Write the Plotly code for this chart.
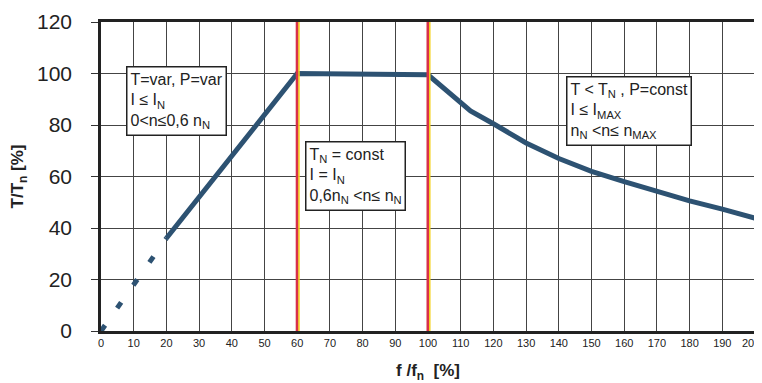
import plotly.graph_objects as go

# Data
dash_x = [0, 20]
dash_y = [0, 36]
curve_x = [20, 30, 40, 50, 60, 100, 110, 113, 120, 130, 140, 150, 160, 170, 180, 190, 200]
curve_y = [36, 52, 68, 84, 100, 99.5, 89, 85.5, 80.5, 73, 67, 62, 58, 54, 50.5, 47.3, 43.8]
boundaries = [60, 100]
x_ticks = list(range(0, 201, 10))
x_tick_labels = [str(v) for v in x_ticks]
y_ticks = list(range(0, 121, 20))

box_texts = [
    "T=var, P=var<br>I ≤ I<sub>N</sub><br>0&lt;n≤0,6 n<sub>N</sub>",
    "T<sub>N</sub> = const<br>I = I<sub>N</sub><br>0,6n<sub>N</sub> &lt;n≤ n<sub>N</sub>",
    "T &lt; T<sub>N</sub> , P=const<br>I ≤ I<sub>MAX</sub><br>n<sub>N</sub> &lt;n≤ n<sub>MAX</sub>",
]
box_x = [7.6, 62.5, 142.3]
box_y = [103.0, 73.6, 99.2]

LINE_COLOR = "#2d5272"

fig = go.Figure()
fig.add_trace(go.Scatter(x=dash_x, y=dash_y, mode="lines",
                         line=dict(color=LINE_COLOR, width=5, dash="7px,21px"),
                         hoverinfo="skip", showlegend=False))
fig.add_trace(go.Scatter(x=curve_x, y=curve_y, mode="lines",
                         line=dict(color=LINE_COLOR, width=5),
                         hoverinfo="skip", showlegend=False))

for b in boundaries:
    fig.add_shape(type="line", x0=b, x1=b, y0=0, y1=1, xref="x", yref="paper",
                  line=dict(color="#d8304a", width=3), layer="above")
    fig.add_shape(type="line", x0=b + 0.55, x1=b + 0.55, y0=0, y1=1, xref="x", yref="paper",
                  line=dict(color="#f5d21c", width=1.5), layer="above")

for t, bx, by in zip(box_texts, box_x, box_y):
    fig.add_annotation(x=bx, y=by, xref="x", yref="y", text=t, showarrow=False,
                       xanchor="left", yanchor="top", align="left",
                       bgcolor="white", bordercolor="#222", borderwidth=1.5, borderpad=3,
                       font=dict(family="Liberation Sans, Arial", size=16, color="#222"))

# the last x tick label sits at the page edge: draw it right-anchored so it stays visible
edge_label = x_tick_labels[-1]
x_tick_labels_axis = x_tick_labels[:-1] + [""]
fig.add_annotation(x=x_ticks[-1], y=0, xref="x", yref="paper", text=edge_label,
                   showarrow=False, xanchor="right", yanchor="middle",
                   xshift=6, yshift=-12, borderpad=0,
                   font=dict(family="Liberation Sans, Arial", size=11, color="#222"))

# page body has an 8px margin, so the figure is sized/offset to compensate
fig.update_layout(
    width=754, height=375,
    margin=dict(l=93, r=7, t=14, b=52, autoexpand=False),
    paper_bgcolor="white", plot_bgcolor="white",
    font=dict(family="Liberation Sans, Arial", color="#222"),
    xaxis=dict(range=[0, 200], tickvals=x_ticks, ticktext=x_tick_labels_axis,
               showgrid=True, gridcolor="#444", gridwidth=1, automargin=False,
               showline=True, linecolor="#222", linewidth=2.5, mirror=True,
               ticks="", tickfont=dict(size=11), zeroline=False,
               ticklabeloverflow="allow",
               title=dict(text="<b>f /f<sub>n</sub>  [%]</b>", font=dict(size=17), standoff=23)),
    yaxis=dict(range=[0, 120], tickvals=y_ticks, automargin=False,
               showgrid=True, gridcolor="#444", gridwidth=1,
               showline=True, linecolor="#222", linewidth=2.5, mirror=True,
               ticks="outside", ticklen=7, tickcolor="#333", tickwidth=1,
               ticklabelstandoff=15,
               tickfont=dict(size=21), zeroline=False,
               title=dict(text="<b>T/T<sub>n</sub> [%]</b>", font=dict(size=17), standoff=11)),
)

fig.write_html("out.html")
